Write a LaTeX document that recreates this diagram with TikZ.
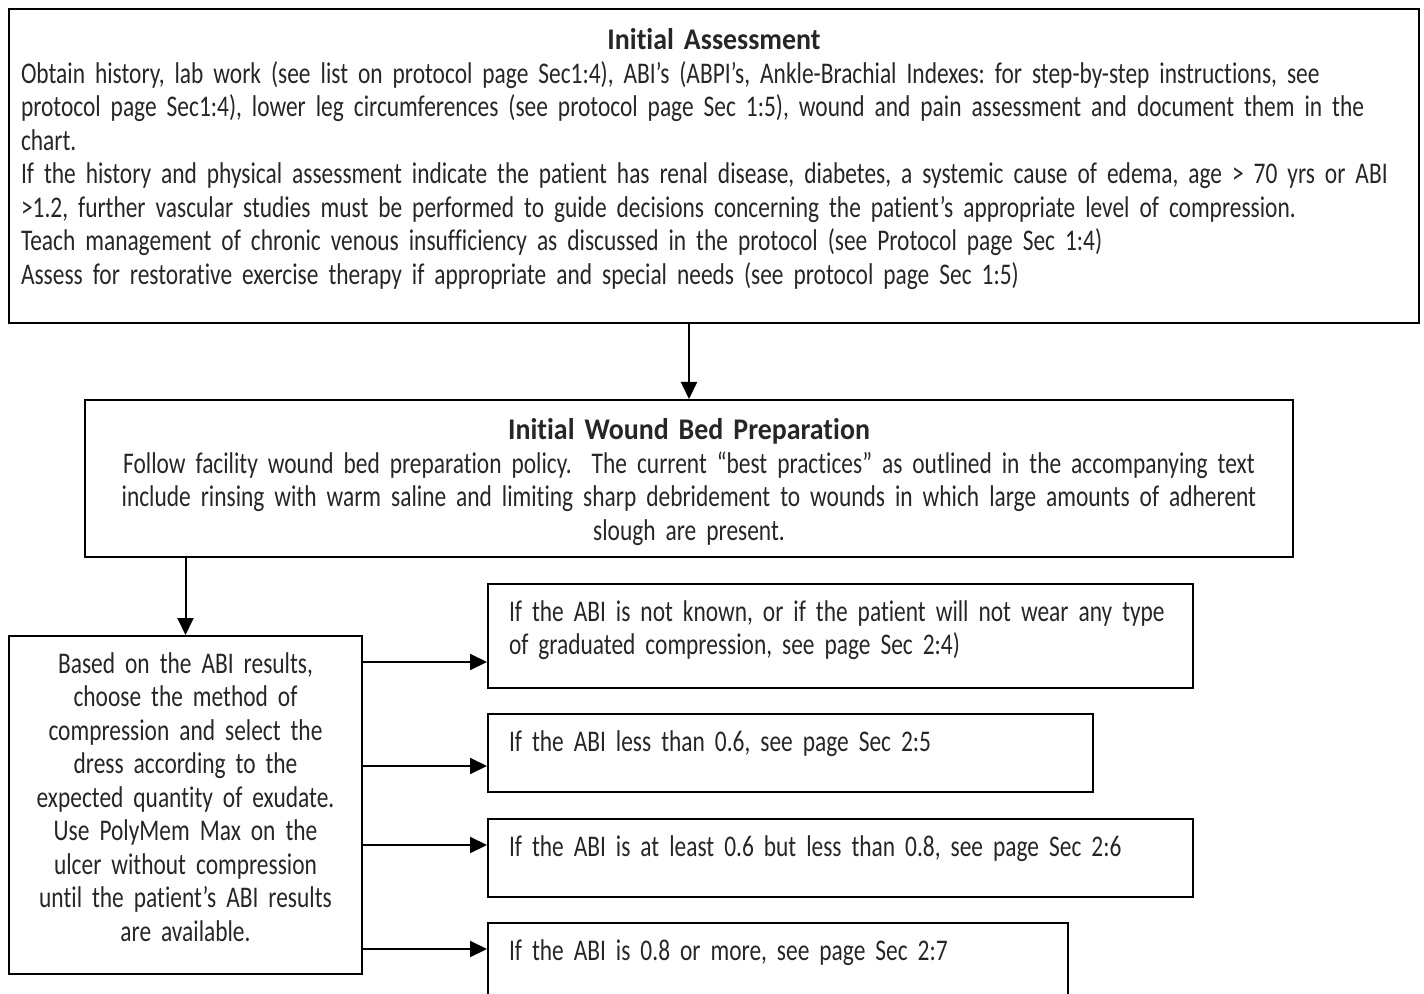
\documentclass[tikz,border=0pt]{standalone}
\usepackage{fontspec}
\setmainfont{Carlito}[FakeStretch=0.78, WordSpace=0.8, Ligatures=NoCommon, BoldFeatures={FakeStretch=0.93}]
\frenchspacing
\usetikzlibrary{arrows.meta}

\begin{document}
\begin{tikzpicture}[
  x=0.5pt, y=-0.5pt,
  every node/.style={font=\fontsize{15}{16.75}\selectfont, text=black!85},
  panel/.style={
    draw=black,
    line width=1pt,
    anchor=north west,
    inner ysep=0pt
  },
  choice/.style={
    panel,
    align=left,
    inner xsep=10.5pt,
    text height=18.5pt,
    text depth=20.5pt
  },
  arrow/.style={-{Triangle[length=8.5pt,width=8pt]}, line width=1pt, draw=black}
]
\useasboundingbox (0,0) rectangle (1424,994);
\clip (0,0) rectangle (1424,994);

\node[panel, align=left, inner xsep=6pt, text width=693pt, text height=20.5pt, text depth=136.5pt] (assess) at (8,8)
  {\makebox[\linewidth]{\textbf{Initial Assessment}}\\
   Obtain history, lab work (see list on protocol page Sec1:4), ABI’s (ABPI’s, Ankle-Brachial Indexes: for step-by-step instructions, see\\
   protocol page Sec1:4), lower leg circumferences (see protocol page Sec 1:5), wound and pain assessment and document them in the\\
   chart.\\
   If the history and physical assessment indicate the patient has renal disease, diabetes, a systemic cause of edema, age > 70 yrs or ABI\\
   >1.2, further vascular studies must be performed to guide decisions concerning the patient’s appropriate level of compression.\\
   Teach management of chronic venous insufficiency as discussed in the protocol (see Protocol page Sec 1:4)\\
   Assess for restorative exercise therapy if appropriate and special needs (see protocol page Sec 1:5)};

\node[panel, align=center, inner xsep=6pt, text width=592pt, text height=20pt, text depth=58.5pt] (prep) at (84,399)
  {\textbf{Initial Wound Bed Preparation}\\
   Follow facility wound bed preparation policy.\ \ The current “best practices” as outlined in the accompanying text\\
   include rinsing with warm saline and limiting sharp debridement to wounds in which large amounts of adherent\\
   slough are present.};

\node[panel, align=center, inner xsep=3.25pt, text width=170pt, text height=18.5pt, text depth=150.5pt] (based) at (8,635)
  {Based on the ABI results,\\
   choose the method of\\
   compression and select the\\
   dress according to the\\
   expected quantity of exudate.\\
   Use PolyMem Max on the\\
   ulcer without compression\\
   until the patient’s ABI results\\
   are available.};

\node[choice, text width=331.5pt, text depth=33.5pt] (unknown) at (487,583)
  {If the ABI is not known, or if the patient will not wear any type\\
   of graduated compression, see page Sec 2:4)};
\node[choice, text width=281.5pt] (low) at (487,713)
  {If the ABI less than 0.6, see page Sec 2:5};
\node[choice, text width=331.5pt] (mid) at (487,818)
  {If the ABI is at least 0.6 but less than 0.8, see page Sec 2:6};
\node[choice, text width=269pt] (high) at (487,922)
  {If the ABI is 0.8 or more, see page Sec 2:7};

\draw[arrow] (prep.north |- assess.south) -- (prep.north);
\draw[arrow] (based.north |- prep.south) -- (based.north);

\draw[arrow] ([yshift=-13pt]unknown.west -| based.east) -- ([yshift=-13pt]unknown.west);
\draw[arrow] ([yshift=-6.5pt]low.west -| based.east) -- ([yshift=-6.5pt]low.west);
\draw[arrow] ([yshift=6.5pt]mid.west -| based.east) -- ([yshift=6.5pt]mid.west);
\draw[arrow] ([yshift=6.5pt]high.west -| based.east) -- ([yshift=6.5pt]high.west);

\end{tikzpicture}
\end{document}
